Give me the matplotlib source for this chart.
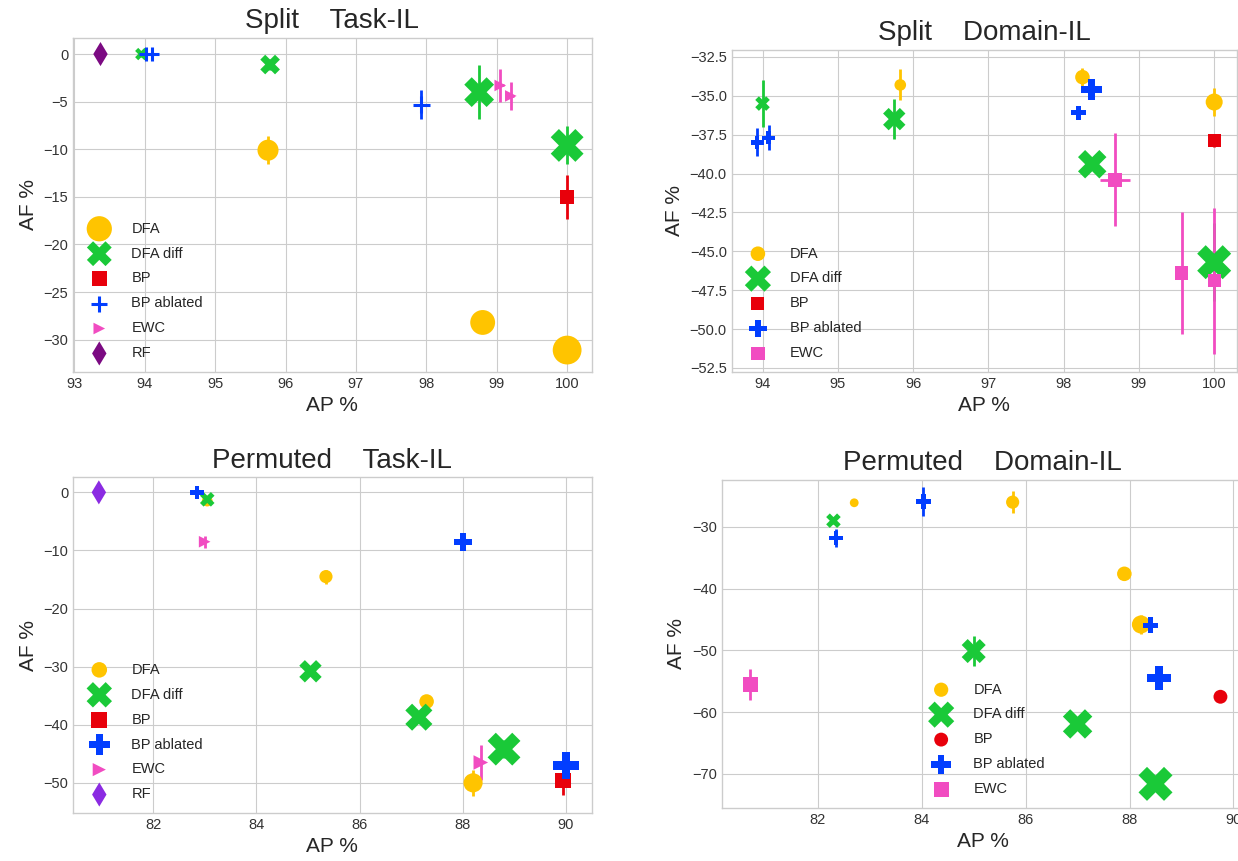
import matplotlib
matplotlib.use("Agg")
import matplotlib.pyplot as plt

plt.style.use("seaborn-v0_8-whitegrid")
plt.rcParams['font.family'] = ['Liberation Sans', 'DejaVu Sans']

# colours (seaborn "bright")
colors = {
    "DFA": "#ffc400",
    "DFA diff": "#1ac938",
    "BP": "#e8000b",
    "BP ablated": "#023eff",
    "EWC": "#f14cc1",
    "RF": "#8b2be2",
}

# --- Split / Task-IL ---
split_task = {
    "DFA":        dict(x=[95.75, 98.8, 100.0], y=[-10.1, -28.2, -31.1], xe=[0, 0, 0], ye=[1.5, 0, 0], s=[230, 320, 430]),
    "DFA diff":   dict(x=[93.95, 95.78, 98.75, 100.0], y=[0.0, -1.1, -4.0, -9.6], xe=[0, 0, 0, 0], ye=[0.3, 0.6, 2.8, 2.0], s=[80, 200, 460, 560]),
    "BP":         dict(x=[100.0], y=[-15.0], xe=[0], ye=[2.3], s=[110]),
    "BP ablated": dict(x=[94.02, 94.1, 97.93], y=[0.0, 0.0, -5.3], xe=[0, 0, 0], ye=[0.2, 0.2, 1.5], s=[110, 110, 150]),
    "EWC":        dict(x=[99.05, 99.2], y=[-3.3, -4.4], xe=[0.05, 0.05], ye=[1.7, 1.5], s=[70, 70]),
    "RF":         dict(x=[93.37], y=[0.0], xe=[0], ye=[0], s=[150]),
}

# --- Split / Domain-IL ---
split_domain = {
    "DFA":        dict(x=[95.83, 98.25, 100.0], y=[-34.3, -33.8, -35.4], xe=[0, 0, 0], ye=[1.0, 0.6, 0.9], s=[70, 110, 150]),
    "DFA diff":   dict(x=[94.0, 95.75, 98.38, 100.0], y=[-35.5, -36.5, -39.4, -45.7], xe=[0, 0, 0, 0], ye=[1.5, 1.3, 0.3, 2.5], s=[110, 260, 420, 600]),
    "BP":         dict(x=[100.0], y=[-37.9], xe=[0], ye=[0.4], s=[90]),
    "BP ablated": dict(x=[93.93, 94.08, 98.2, 98.37], y=[-38.0, -37.7, -36.1, -34.6], xe=[0, 0, 0, 0], ye=[0.9, 0.8, 0.4, 0.6], s=[90, 90, 110, 230]),
    "EWC":        dict(x=[98.68, 99.57, 100.0], y=[-40.4, -46.4, -46.9], xe=[0.2, 0, 0], ye=[3.0, 3.9, 4.7], s=[100, 90, 90]),
}

# --- Permuted / Task-IL ---
perm_task = {
    "DFA":        dict(x=[83.05, 85.35, 87.3, 88.2], y=[-1.5, -14.5, -36.0, -50.0], xe=[0, 0, 0, 0], ye=[0.5, 1.2, 1.0, 2.2], s=[60, 90, 110, 190]),
    "DFA diff":   dict(x=[83.05, 85.05, 87.15, 88.8], y=[-1.2, -30.8, -38.7, -44.2], xe=[0, 0, 0, 0], ye=[0.5, 0.5, 0.5, 1.5], s=[110, 260, 380, 560]),
    "BP":         dict(x=[89.95], y=[-49.6], xe=[0], ye=[2.5], s=[130]),
    "BP ablated": dict(x=[82.85, 88.0, 90.0], y=[0.0, -8.5, -47.0], xe=[0, 0, 0], ye=[0.3, 0.3, 1.0], s=[90, 160, 360]),
    "EWC":        dict(x=[83.0, 88.35], y=[-8.5, -46.5], xe=[0, 0], ye=[1.0, 3.0], s=[70, 110]),
    "RF":         dict(x=[80.95], y=[0.0], xe=[0], ye=[0], s=[150]),
}

# --- Permuted / Domain-IL ---
perm_domain = {
    "DFA":        dict(x=[82.7, 85.75, 87.9, 88.22], y=[-26.1, -26.0, -37.6, -45.8], xe=[0, 0, 0, 0], ye=[0, 1.8, 0, 1.6], s=[40, 90, 110, 170]),
    "DFA diff":   dict(x=[82.3, 85.0, 87.0, 88.5], y=[-29.0, -50.1, -61.9, -71.6], xe=[0, 0, 0, 0], ye=[0.5, 2.5, 0.5, 0.5], s=[110, 300, 450, 600]),
    "BP":         dict(x=[89.75], y=[-57.5], xe=[0], ye=[0.6], s=[100]),
    "BP ablated": dict(x=[82.35, 84.03, 88.4, 88.57], y=[-31.8, -25.9, -45.9, -54.5], xe=[0, 0, 0, 0], ye=[1.5, 2.3, 0.3, 1.5], s=[110, 110, 120, 300]),
    "EWC":        dict(x=[80.7], y=[-55.5], xe=[0], ye=[2.5], s=[120]),
}

markers_task = {"DFA": "o", "DFA diff": "X", "BP": "s", "BP ablated": "P", "EWC": ">", "RF": "d"}
markers_sdomain = {"DFA": "o", "DFA diff": "X", "BP": "s", "BP ablated": "P", "EWC": "s"}
markers_pdomain = {"DFA": "o", "DFA diff": "X", "BP": "o", "BP ablated": "P", "EWC": "s"}

fig = plt.figure(figsize=(12.38, 8.61), dpi=100)

panels = [
    # data, title, markers, rect, xlim, ylim, xticks, yticks, legend anchor
    (split_task, "Split    Task-IL", markers_task, [0.059, 0.568, 0.419, 0.388],
     (92.98, 100.35), (-33.4, 1.7), [93, 94, 95, 96, 97, 98, 99, 100], [0, -5, -10, -15, -20, -25, -30], (0.0, 0.0)),
    (split_domain, "Split    Domain-IL", markers_sdomain, [0.591, 0.568, 0.408, 0.374],
     (93.59, 100.3), (-52.76, -32.05), [94, 95, 96, 97, 98, 99, 100],
     [-32.5, -35.0, -37.5, -40.0, -42.5, -45.0, -47.5, -50.0, -52.5], (0.0, 0.0)),
    (perm_task, "Permuted    Task-IL", markers_task, [0.059, 0.0557, 0.419, 0.390],
     (80.45, 90.5), (-55.2, 2.6), [82, 84, 86, 88, 90], [0, -10, -20, -30, -40, -50], (0.0, 0.0)),
    (perm_domain, "Permuted    Domain-IL", markers_pdomain, [0.583, 0.0616, 0.4217, 0.381],
     (80.15, 90.2), (-75.5, -22.4), [82, 84, 86, 88, 90], [-30, -40, -50, -60, -70], (0.37, 0.0)),
]

for i, (data, title, mk, rect, xlim, ylim, xt, yt, anchor) in enumerate(panels):
    ax = fig.add_axes(rect)
    for name, d in data.items():
        c = colors[name]
        if i == 0 and name == "RF":
            c = "#7b0a82"
        ax.errorbar(d["x"], d["y"], xerr=d["xe"], yerr=d["ye"], fmt="none",
                    ecolor=c, elinewidth=2, capsize=0, zorder=2)
        m = mk[name]
        if i == 0 and name == "BP ablated":
            ax.scatter(d["x"], d["y"], s=d["s"], marker="+", color=c,
                       linewidths=2.2, label=name, zorder=3)
        else:
            ax.scatter(d["x"], d["y"], s=d["s"], marker=m, color=c,
                       edgecolors="none", label=name, zorder=3)
    ax.set_xlim(*xlim)
    ax.set_ylim(*ylim)
    ax.set_xticks(xt)
    ax.set_yticks(yt)
    if i == 1:
        ax.set_yticklabels([f"{v:.1f}".replace("-", "\u2212") for v in yt])
    ax.tick_params(labelsize=10.5, colors="#333333")
    ax.set_title(title, fontsize=20, color="#262626", pad=7)
    ax.set_xlabel("AP %", fontsize=15, color="#262626", labelpad=4)
    ax.set_ylabel("AF %", fontsize=15, color="#262626")
    ax.legend(loc="lower left", bbox_to_anchor=anchor, fontsize=10.5,
              frameon=False, labelspacing=0.75, handletextpad=1.2,
              scatterpoints=1, borderaxespad=0.4)

fig.savefig("out.png", dpi=100)
